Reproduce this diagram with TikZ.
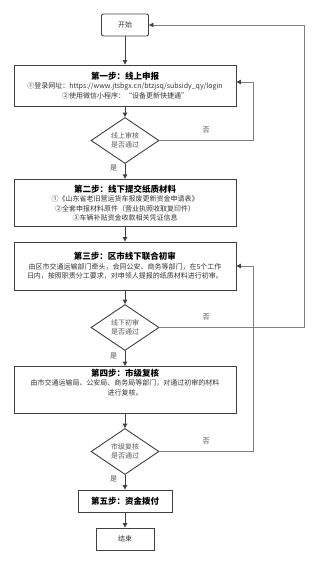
\documentclass[tikz,border=0pt]{standalone}
\usepackage{fontspec}
\setmainfont{Noto Sans CJK SC}
\usetikzlibrary{arrows.meta, shapes.geometric, calc}

\begin{document}
\begin{tikzpicture}[
  x=1pt, y=-1pt,
  >={Triangle[length=4.5pt, width=4.5pt]},
  box/.style={draw=black!75, line width=0.9pt, align=center, inner sep=1pt,
    font=\fontsize{7}{9.5}\selectfont, text=black!80},
  decision/.style={draw=black!75, line width=0.9pt, diamond, aspect=1.5, inner sep=0pt,
    minimum width=68pt, minimum height=46pt, align=center,
    font=\fontsize{7}{9.5}\selectfont, text=black!65},
  flow/.style={->, draw=black!75, line width=1pt},
  back/.style={-{Triangle[length=4.5pt, width=4.5pt, color=black!75]}, draw=black!50, line width=0.8pt},
  lbl/.style={font=\fontsize{7}{8}\selectfont, text=black!70},
  ]

  % Parameters
  \def\Xm{125}
  \def\Bw{222}
  \newcommand{\steptitle}[1]{{\fontsize{8.5}{11}\selectfont\bfseries\color{black}#1}}

  \useasboundingbox (0,0) rectangle (317,564);

  % Main column
  \node[box, rounded corners=2pt, minimum width=47pt, minimum height=22pt] (start) at (\Xm,25) {开始};
  \node[box, minimum width=\Bw pt, minimum height=41pt] (step1) at (\Xm,85.5)
    {\steptitle{第一步：线上申报}\\
     ①登录网址：https://www.jtsbgx.cn/btzjsq/subsidy\_qy/login\\
     ②使用微信小程序：“设备更新快捷通”};
  \node[decision] (d1) at (\Xm,140.5) {线上审核\\是否通过};
  \node[box, minimum width=\Bw pt, minimum height=47.5pt] (step2) at (\Xm,203)
    {\steptitle{第二步：线下提交纸质材料}\\
     ①《山东省老旧营运货车报废更新资金申请表》\\
     ②全套申报材料原件（营业执照收取复印件）\\
     ③车辆补贴资金收款相关凭证信息};
  \node[box, minimum width=\Bw pt, minimum height=48pt] (step3) at (\Xm,266)
    {\steptitle{第三步：区市线下联合初审}\\
     由区市交通运输部门牵头，会同公安、商务等部门，在5个工作\\
     日内，按照职责分工要求，对申领人提报的纸质材料进行初审。};
  \node[decision] (d2) at (\Xm,327.5) {线下初审\\是否通过};
  \node[box, minimum width=\Bw pt, minimum height=47pt] (step4) at (\Xm,390)
    {\steptitle{第四步：市级复核}\\
     由市交通运输局、公安局、商务局等部门，对通过初审的材料\\
     进行复核。\\[6pt]};
  \node[decision] (d3) at (\Xm,451.5) {市级复核\\是否通过};
  \node[box, minimum width=94pt, minimum height=22pt] (step5) at (\Xm,501)
    {\steptitle{第五步：资金拨付}};
  \node[box, minimum width=58pt, minimum height=22pt] (end) at (\Xm,539) {结束};

  % Forward arrows
  \draw[flow] (start) -- (step1);
  \draw[flow] (step1) -- (d1);
  \draw[flow] (d1) -- (step2);
  \draw[flow] (step2) -- (step3);
  \draw[flow] (step3) -- (d2);
  \draw[flow] (d2) -- (step4);
  \draw[flow] (step4) -- (d3);
  \draw[flow] (d3) -- (step5);
  \draw[flow] (step5) -- (end);

  % Yes labels
  \node[lbl] (yes1) at (113.5,168) {是};
  \node[lbl] (yes2) at (113.5,356) {是};
  \node[lbl] (yes3) at (113.5,478.5) {是};

  % Feedback loops
  \coordinate (in1) at ([yshift=3.5pt]step1.east);
  \draw[back] (d1.east) -| ([xshift=17pt]in1) -- (in1);
  \draw[back] (d2.east) -| ([xshift=155pt]start.east) -- (start.east);
  \draw[back] (d3.east) -| ([xshift=17pt]step3.east) -- (step3.east);

  % No labels
  \node[lbl] (no1) at (206,130) {否};
  \node[lbl] (no2) at (206,317) {否};
  \node[lbl] (no3) at (206,441) {否};

\end{tikzpicture}
\end{document}
